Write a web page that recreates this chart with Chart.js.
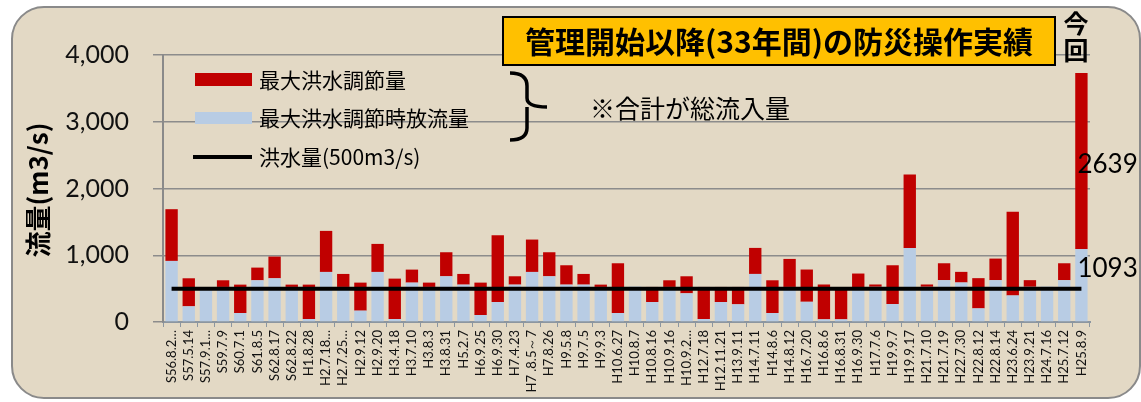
<!DOCTYPE html>
<html lang="ja">
<head>
<meta charset="UTF-8">
<title>管理開始以降(33年間)の防災操作実績</title>
<script src="https://cdn.jsdelivr.net/npm/chart.js"></script>
<style>
  html, body { margin: 0; padding: 0; background: #fff; }
</style>
</head>
<body>
<canvas id="grafico" width="1141" height="402"></canvas>
<script>
// 洪水の日付 (x軸)
const fechas = ['S56.8.2…','S57.5.14','S57.9.1…','S59.7.9','S60.7.1','S61.8.5','S62.8.17','S62.8.22',
  'H1.8.28','H2.7.18…','H2.7.25…','H2.9.12','H2.9.20','H3.4.18','H3.7.10','H3.8.3','H3.8.31','H5.2.7',
  'H6.9.25','H6.9.30','H7.4.23','H7 .8.5～7','H7.8.26','H9.5.8','H9.7.5','H9.9.3','H10.6.27','H10.8.7',
  'H10.8.16','H10.9.16','H10.9.2…','H12.7.18','H12.11.21','H13.9.11','H14.7.11','H14.8.6','H14.8.12',
  'H16.7.20','H16.8.6','H16.8.31','H16.9.30','H17.7.6','H19.9.7','H19.9.17','H21.7.10','H21.7.19',
  'H22.7.30','H22.8.12','H22.8.14','H23.6.24','H23.9.21','H24.7.16','H25.7.12','H25.8.9'];

// 最大洪水調節時放流量 (m3/s)
const houryuryo = [915,235,480,525,135,625,655,525,45,750,
  525,170,750,45,590,525,685,560,105,300,
  560,750,685,560,560,525,135,530,300,525,
  430,45,300,265,720,135,525,303,40,40,
  485,527,269,1109,527,627,592,204,627,398,
  527,530,627,1093];

// 最大洪水調節量 (m3/s)
const chosetsuryo = [775,420,0,100,425,190,325,35,515,615,
  195,420,420,605,195,65,360,160,485,1000,
  125,485,360,290,160,35,745,0,225,100,
  255,480,225,260,390,490,420,483,522,450,
  241,35,581,1100,35,253,159,453,323,1254,
  100,0,253,2639];

// 洪水量
const kozuiryo = 500;

const yTicks = [0, 1000, 2000, 3000, 4000];

const ROJO = '#C00000';
const AZUL = '#B8CCE4';
const JP = "'Noto Sans CJK JP'";

const fondo = {
  id: 'fondo',
  beforeDraw(chart) {
    const ctx = chart.ctx;
    ctx.save();
    ctx.fillStyle = '#ffffff';
    ctx.fillRect(0, 0, chart.width, chart.height);
    ctx.beginPath();
    ctx.roundRect(12, 7, 1128, 391, 32);
    ctx.fillStyle = '#e3d9c5';
    ctx.fill();
    ctx.lineWidth = 2;
    ctx.strokeStyle = '#8a8a8a';
    ctx.stroke();
    ctx.restore();
  }
};

const textos = {
  id: 'textos',
  afterDatasetsDraw(chart) {
    const ctx = chart.ctx;
    const x = chart.scales.x, y = chart.scales.y;
    ctx.save();

    // 凡例
    ctx.textBaseline = 'middle';
    ctx.textAlign = 'left';
    ctx.font = '21px ' + JP;
    ctx.fillStyle = ROJO;
    ctx.fillRect(195, 73, 57, 13);
    ctx.fillStyle = AZUL;
    ctx.fillRect(195, 112, 57, 12);
    ctx.strokeStyle = '#000';
    ctx.lineWidth = 4;
    ctx.beginPath();
    ctx.moveTo(193, 157);
    ctx.lineTo(252, 157);
    ctx.stroke();
    ctx.fillStyle = '#000';
    ctx.fillText(chart.data.datasets[1].label, 259, 80);
    ctx.fillText(chart.data.datasets[0].label, 259, 118);
    ctx.fillText(chart.data.datasets[2].label, 259, 157);

    // 中括弧
    ctx.lineWidth = 3.5;
    ctx.beginPath();
    ctx.moveTo(510, 73);
    ctx.quadraticCurveTo(527, 73, 527, 86);
    ctx.lineTo(527, 98);
    ctx.quadraticCurveTo(527, 107, 547, 107);
    ctx.moveTo(527, 107);
    ctx.lineTo(527, 128);
    ctx.quadraticCurveTo(527, 140, 510, 140);
    ctx.stroke();
    ctx.font = '25px ' + JP;
    ctx.fillText('※合計が総流入量', 590, 108);

    // タイトル
    ctx.fillStyle = '#FFC000';
    ctx.fillRect(503, 17, 552, 48);
    ctx.lineWidth = 2;
    ctx.strokeRect(503, 17, 552, 48);
    ctx.fillStyle = '#000';
    ctx.textAlign = 'center';
    ctx.font = 'bold 30px ' + JP;
    ctx.fillText('管理開始以降(33年間)の防災操作実績', 779, 42);
    ctx.font = 'bold 25px ' + JP;
    ctx.fillText('今', 1076, 23);
    ctx.fillText('回', 1076, 50);

    // 軸タイトル
    ctx.save();
    ctx.translate(38, 190);
    ctx.rotate(-Math.PI / 2);
    ctx.font = 'bold 26px ' + JP;
    ctx.fillText('流量(m3/s)', 0, 0);
    ctx.restore();

    // 今回の値
    const i = fechas.length - 1;
    const px = x.getPixelForValue(i) - 4;
    ctx.textAlign = 'left';
    ctx.font = '26px Lato';
    ctx.fillText(String(chosetsuryo[i]), px, y.getPixelForValue(houryuryo[i] + chosetsuryo[i] / 2) + 4);
    ctx.fillText(String(houryuryo[i]), px, y.getPixelForValue(houryuryo[i]) + 20);

    ctx.restore();
  }
};

new Chart(document.getElementById('grafico'), {
  data: {
    labels: fechas,
    datasets: [
      {
        type: 'bar',
        label: '最大洪水調節時放流量',
        data: houryuryo,
        backgroundColor: AZUL,
        barPercentage: 0.72,
        categoryPercentage: 1,
        order: 1
      },
      {
        type: 'bar',
        label: '最大洪水調節量',
        data: chosetsuryo,
        backgroundColor: ROJO,
        barPercentage: 0.72,
        categoryPercentage: 1,
        order: 1
      },
      {
        type: 'line',
        label: '洪水量(500m3/s)',
        data: fechas.map(() => kozuiryo),
        borderColor: '#000',
        borderWidth: 4,
        pointRadius: 0,
        stack: 'linea',
        order: 0
      }
    ]
  },
  options: {
    responsive: false,
    animation: false,
    layout: { padding: { left: 0, right: 51, top: 55, bottom: 0 } },
    plugins: {
      legend: { display: false },
      tooltip: { enabled: false }
    },
    scales: {
      x: {
        stacked: true,
        afterFit: s => { s.height = 80; },
        border: { color: '#8c96a0', width: 2 },
        grid: { drawOnChartArea: false, tickLength: 5, color: '#8c96a0' },
        ticks: {
          autoSkip: false,
          minRotation: 90,
          maxRotation: 90,
          padding: 3,
          color: '#111',
          font: { family: 'Lato', size: 13 }
        }
      },
      y: {
        stacked: true,
        min: 0,
        max: 4000,
        afterFit: s => { s.width = 163; },
        afterBuildTicks: s => { s.ticks = yTicks.map(v => ({ value: v })); },
        border: { color: '#8a8a8a', width: 2 },
        grid: { color: '#8c8c8c', lineWidth: 1.5, tickLength: 10 },
        ticks: {
          padding: 24,
          color: '#111',
          font: { family: 'Lato', size: 25 },
          callback: v => v.toLocaleString('en-US')
        }
      }
    }
  },
  plugins: [fondo, textos]
});
</script>
</body>
</html>
